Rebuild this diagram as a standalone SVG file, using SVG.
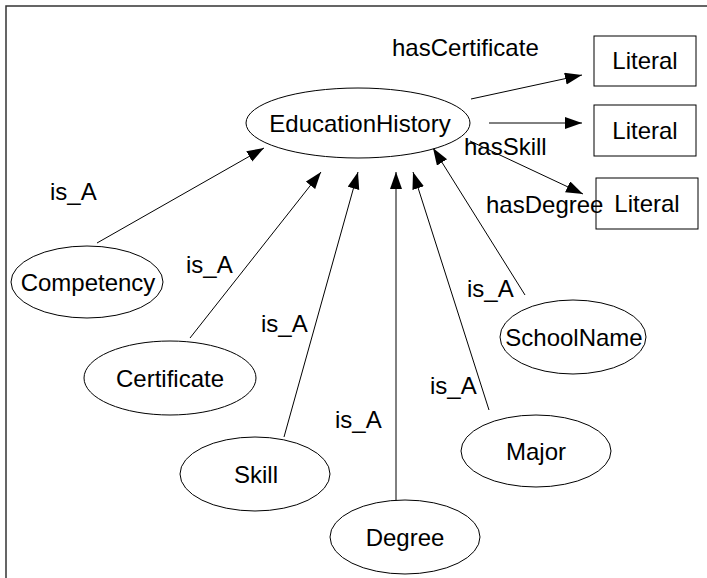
<svg xmlns="http://www.w3.org/2000/svg" width="707" height="578" viewBox="0 0 707 578">
  <style>
    text { font-family: "Liberation Sans", Arial, sans-serif; font-size: 24px; fill: #000; }
    .mid { text-anchor: middle; }
    .node { fill: #fff; stroke: #000; stroke-width: 1; }
    .edge { fill: none; stroke: #000; stroke-width: 1; marker-end: url(#arrow); }
    .frame { fill: none; stroke: #333; stroke-width: 1.5; }
  </style>
  <defs>
    <marker id="arrow" markerUnits="userSpaceOnUse" markerWidth="18" markerHeight="13" refX="17" refY="6" orient="auto">
      <path d="M0,0 L17,6 L0,12 z" fill="#000"/>
    </marker>
  </defs>

  <rect width="707" height="578" fill="#fff"/>
  <path class="frame" d="M707,6 H6 V578"/>

  <!-- connectors -->
  <g id="connectors">
    <line class="edge" x1="471" y1="99" x2="582" y2="75"/>
    <line class="edge" x1="489" y1="123" x2="582" y2="123"/>
    <line class="edge" x1="470" y1="141" x2="583" y2="194"/>
    <line class="edge" x1="97" y1="243" x2="264" y2="148"/>
    <line class="edge" x1="190" y1="338" x2="321" y2="172"/>
    <line class="edge" x1="284" y1="437" x2="358" y2="172"/>
    <line class="edge" x1="396" y1="512" x2="396" y2="172"/>
    <line class="edge" x1="489" y1="410" x2="413" y2="172"/>
    <line class="edge" x1="525" y1="295" x2="433" y2="148"/>
  </g>

  <g id="EducationHistory">
    <ellipse class="node" cx="358" cy="123" rx="112" ry="35"/>
    <text class="mid" x="360" y="132">EducationHistory</text>
  </g>
  <g id="Literal1">
    <rect class="node" x="594" y="36" width="102" height="50"/>
    <text class="mid" x="645" y="69">Literal</text>
  </g>
  <g id="Literal2">
    <rect class="node" x="594" y="105" width="102" height="51"/>
    <text class="mid" x="645" y="139">Literal</text>
  </g>
  <g id="Literal3">
    <rect class="node" x="596" y="178" width="102" height="51"/>
    <text class="mid" x="647" y="212">Literal</text>
  </g>
  <g id="Competency">
    <ellipse class="node" cx="87" cy="282" rx="76" ry="36"/>
    <text class="mid" x="88" y="291">Competency</text>
  </g>
  <g id="Certificate">
    <ellipse class="node" cx="170" cy="378" rx="86" ry="37"/>
    <text class="mid" x="170" y="387">Certificate</text>
  </g>
  <g id="Skill">
    <ellipse class="node" cx="255" cy="474" rx="75" ry="37"/>
    <text class="mid" x="256" y="483">Skill</text>
  </g>
  <g id="Degree">
    <ellipse class="node" cx="405" cy="537" rx="75" ry="37"/>
    <text class="mid" x="405" y="546">Degree</text>
  </g>
  <g id="Major">
    <ellipse class="node" cx="536" cy="451" rx="75" ry="36"/>
    <text class="mid" x="536" y="460">Major</text>
  </g>
  <g id="SchoolName">
    <ellipse class="node" cx="573" cy="337" rx="73" ry="37"/>
    <text class="mid" x="574" y="346">SchoolName</text>
  </g>

  <!-- connector labels, drawn last so they sit over box borders -->
  <g id="labels">
    <text x="392" y="56">hasCertificate</text>
    <text x="464" y="155">hasSkill</text>
    <text x="486" y="213">hasDegree</text>
    <text x="50" y="200">is_A</text>
    <text x="186" y="273">is_A</text>
    <text x="261" y="332">is_A</text>
    <text x="335" y="428">is_A</text>
    <text x="430" y="394">is_A</text>
    <text x="467" y="297">is_A</text>
  </g>
</svg>
